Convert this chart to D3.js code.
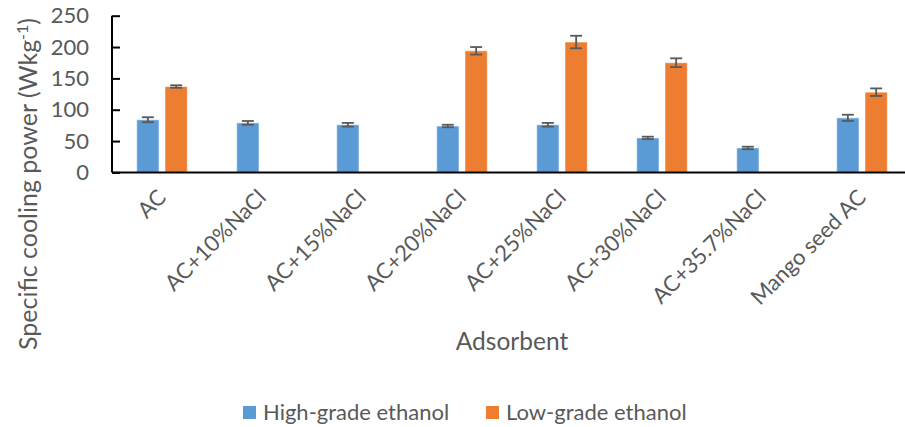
<!DOCTYPE html>
<html>
<head>
<meta charset="utf-8">
<script src="https://cdn.jsdelivr.net/npm/d3@7"></script>
<style>
html,body{margin:0;padding:0;background:#fff;}
svg{display:block;}
text{font-family:Lato,"Open Sans",sans-serif;fill:#595959;}
</style>
</head>
<body>
<svg id="chart" width="905" height="427"></svg>
<script>
const categories = ["AC","AC+10%NaCl","AC+15%NaCl","AC+20%NaCl","AC+25%NaCl","AC+30%NaCl","AC+35.7%NaCl","Mango seed AC"];
const seriesNames = ["High-grade ethanol","Low-grade ethanol"];
const highGrade = [84, 79, 76, 74, 76, 55, 39, 87];
const highGradeErr = [4, 3, 3, 2, 3, 2, 2, 5];
const lowGrade = [137, null, null, 194, 208, 175, null, 128];
const lowGradeErr = [2, null, null, 6, 10, 7, null, 6];
const yTicks = [0, 50, 100, 150, 200, 250];
const colors = ["#5B9BD5", "#ED7D31"];

const FS = 22;
const svg = d3.select("#chart");
const x0 = 112, xEnd = 912, yTop = 15.7, yBot = 172.4;

const y = d3.scaleLinear().domain([0, 250]).range([yBot, yTop]);
const x = d3.scaleBand().domain(categories).range([x0, xEnd]).padding(0);
const x1 = d3.scaleBand().domain(seriesNames).range([24.7, 75.3]).paddingInner(0.212).paddingOuter(0);

const data = [highGrade, lowGrade];
const errs = [highGradeErr, lowGradeErr];

// bars
seriesNames.forEach((s, si) => {
  const rows = categories.map((c, i) => ({c, v: data[si][i], e: errs[si][i]})).filter(d => d.v != null);
  const g = svg.append("g");
  g.selectAll("rect").data(rows).enter().append("rect")
    .attr("x", d => x(d.c) + x1(s))
    .attr("y", d => y(d.v))
    .attr("width", x1.bandwidth())
    .attr("height", d => y(0) - y(d.v))
    .attr("fill", colors[si])
    .attr("stroke", "rgba(255,255,255,0.55)")
    .attr("stroke-width", 1);
  const eg = svg.append("g").attr("stroke", "#595959").attr("stroke-width", 1.8).attr("fill", "none");
  rows.forEach(d => {
    const cx = x(d.c) + x1(s) + x1.bandwidth() / 2;
    const cap = 6;
    eg.append("line").attr("x1", cx).attr("x2", cx).attr("y1", y(d.v + d.e)).attr("y2", y(d.v - d.e));
    eg.append("line").attr("x1", cx - cap).attr("x2", cx + cap).attr("y1", y(d.v + d.e)).attr("y2", y(d.v + d.e));
    eg.append("line").attr("x1", cx - cap).attr("x2", cx + cap).attr("y1", y(d.v - d.e)).attr("y2", y(d.v - d.e));
  });
});

// y axis
const yAxis = d3.axisLeft(y).tickValues(yTicks).tickSize(-8).tickPadding(23).tickFormat(d3.format("d"));
const yg = svg.append("g").attr("transform", `translate(${x0},0)`).call(yAxis);
yg.select(".domain").attr("stroke", "#000").attr("stroke-width", 2).attr("d", `M0,${yTop}V${yBot}`);
yg.selectAll(".tick line").attr("stroke", "#000").attr("stroke-width", 2);
yg.selectAll(".tick text").style("font-size", FS + "px").style("font-family", "Lato").attr("fill", "#595959");

// x axis
const xAxis = d3.axisBottom(x).tickSize(0).tickPadding(0);
const xg = svg.append("g").attr("transform", `translate(0,${yBot})`).call(xAxis);
xg.select(".domain").attr("stroke", "#000").attr("stroke-width", 2).attr("d", `M${x0},0H${xEnd}`);
xg.selectAll(".tick text")
  .style("font-size", FS + "px").style("font-family", "Lato").attr("fill", "#595959")
  .attr("text-anchor", "end")
  .attr("dy", null).attr("y", 0)
  .attr("transform", "translate(-7,14) rotate(-45)")
  .attr("dominant-baseline", "hanging");

// axis titles
svg.append("text").attr("x", 512).attr("y", 350).attr("text-anchor", "middle")
  .style("font-size", "24.5px").text("Adsorbent");

const yt = svg.append("text").attr("transform", "translate(37,184) rotate(-90)").attr("text-anchor", "middle")
  .style("font-size", "25px");
yt.append("tspan").text("Specific cooling power (Wkg");
yt.append("tspan").attr("baseline-shift", "super").style("font-size", "16px").text("-1");
yt.append("tspan").text(")");

// legend
const legX = [243, 486];
seriesNames.forEach((s, i) => {
  svg.append("rect").attr("x", legX[i]).attr("y", 406).attr("width", 13).attr("height", 13).attr("fill", colors[i]);
  svg.append("text").attr("x", legX[i] + 20).attr("y", 420).style("font-size", FS + "px").text(s);
});
</script>
</body>
</html>
